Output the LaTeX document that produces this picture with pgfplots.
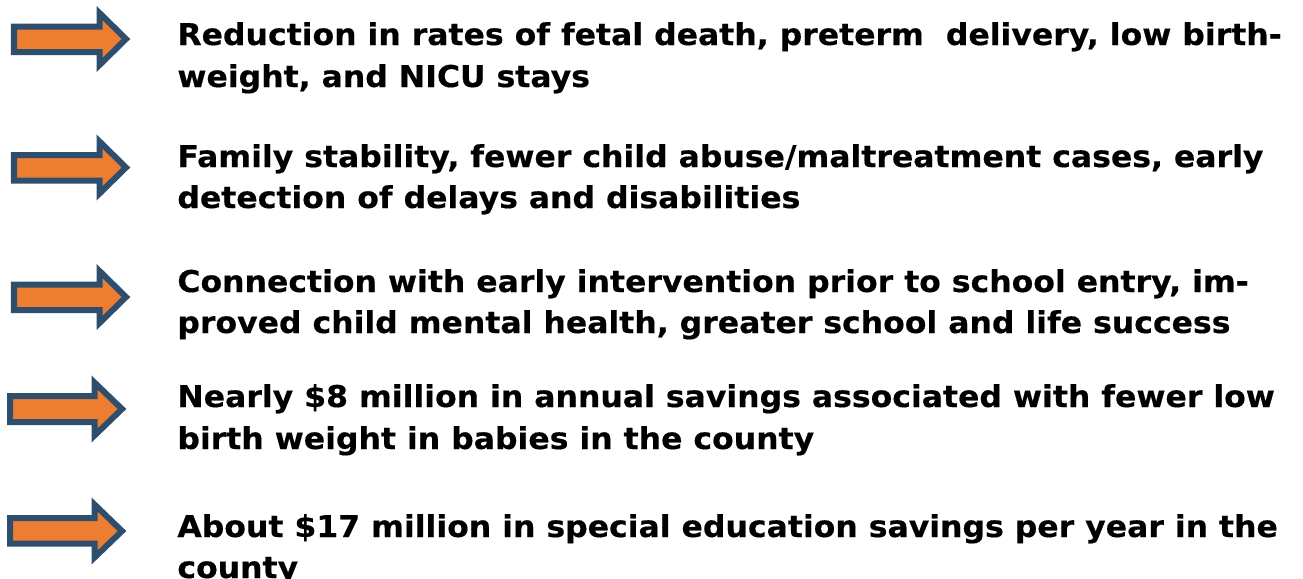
\documentclass[border=0pt]{standalone}
\usepackage{pgfplots}
\pgfplotsset{compat=1.18}
\usepackage{fontspec}
\setmainfont{DejaVu Sans}[FakeStretch=1.05, BoldFeatures={FakeBold=0.4}]
\definecolor{arrowfill}{HTML}{ED7D31}
\definecolor{arrowline}{HTML}{2E4E6E}
\begin{document}
\begin{tikzpicture}[x=0.5pt,y=0.5pt]
\begin{axis}[
  scale only axis, width=651.5pt, height=289.5pt,
  xmin=0, xmax=1303, ymin=0, ymax=579, y dir=reverse,
  hide axis, clip=false,
  arr/.style={fill=arrowfill, draw=arrowline, line width=3pt, line join=miter, mark=none},
]
% arrow 1 (center 39)
\addplot[arr] coordinates {(14,26.5) (99.5,26.5) (99.5,13) (126,39) (99.5,65) (99.5,52) (14,52)} -- cycle;
% arrow 2 (center 167.5)
\addplot[arr] coordinates {(14,155) (99.5,155) (99.5,141.5) (126,167.5) (99.5,193.5) (99.5,180.5) (14,180.5)} -- cycle;
% arrow 3 (center 297)
\addplot[arr] coordinates {(14,284.5) (99.5,284.5) (99.5,271) (126,297) (99.5,323) (99.5,310) (14,310)} -- cycle;
% arrow 4 (center 409)
\addplot[arr] coordinates {(10,396) (94.5,396) (94.5,382.5) (122,409) (94.5,435.5) (94.5,422) (10,422)} -- cycle;
% arrow 5 (center 530.5)
\addplot[arr] coordinates {(10,518) (94.5,518) (94.5,504.5) (122,531) (94.5,557.5) (94.5,543.5) (10,543.5)} -- cycle;

\tikzset{txt/.style={anchor=base west, inner sep=0pt, font=\fontsize{15}{18}\selectfont\bfseries}}
\node[txt] at (axis cs:177,45) {Reduction in rates of fetal death, preterm\ \ delivery, low birth-};
\node[txt] at (axis cs:177,87) {weight, and NICU stays};
\node[txt] at (axis cs:177,167) {Family stability, fewer child abuse/maltreatment cases, early};
\node[txt] at (axis cs:177,208) {detection of delays and disabilities};
\node[txt] at (axis cs:177,292) {Connection with early intervention prior to school entry, im-};
\node[txt] at (axis cs:177,333) {proved child mental health, greater school and life success};
\node[txt] at (axis cs:177,407) {Nearly \$8 million in annual savings associated with fewer low};
\node[txt] at (axis cs:177,449) {birth weight in babies in the county};
\node[txt] at (axis cs:177,537) {About \$17 million in special education savings per year in the};
\node[txt] at (axis cs:177,578) {county};
\end{axis}
\pgfresetboundingbox
\path[use as bounding box] (current axis.south west) rectangle (current axis.north east);
\end{tikzpicture}
\end{document}
